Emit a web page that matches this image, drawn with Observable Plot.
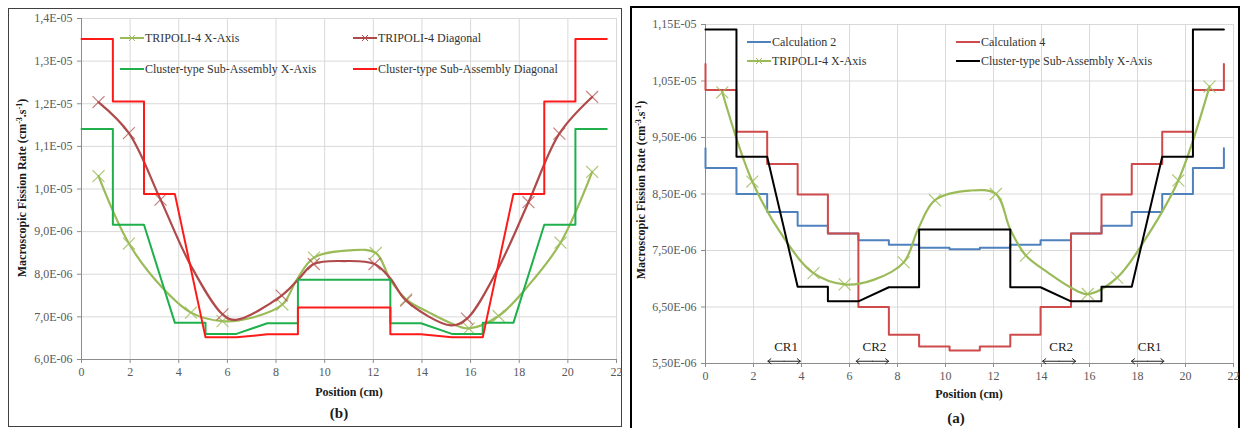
<!DOCTYPE html>
<html><head><meta charset="utf-8">
<script src="https://cdn.jsdelivr.net/npm/d3@7"></script>
<script src="https://cdn.jsdelivr.net/npm/@observablehq/plot@0.6"></script>
<style>
body{margin:0;background:#fff;}
#root{position:relative;width:1241px;height:428px;overflow:hidden;background:#fff;font-family:"Liberation Serif","Times New Roman",serif;}
.panel{position:absolute;box-sizing:border-box;}
.panel svg{position:absolute;left:0;top:0;}
.lbl{position:absolute;white-space:nowrap;transform:translate(-50%,-50%);line-height:1;color:#1a1a1a;}
.leg{position:absolute;white-space:nowrap;font-size:12px;color:#333;line-height:14px;}
sup{font-size:8px;line-height:0;vertical-align:4px;}
</style></head><body>
<div id="root">
 <div class="panel" id="pb" style="left:8px;top:8px;width:614px;height:419px;border:1px solid #404040;"></div>
 <div class="panel" id="pa" style="left:630px;top:6px;width:610px;height:440px;border:2px solid #000;"></div>
</div>
<script>
// ---------- tick values / labels ----------
const xTicks = [0, 2, 4, 6, 8, 10, 12, 14, 16, 18, 20, 22];
const bYTicks = [6, 7, 8, 9, 10, 11, 12, 13, 14];              // x 1e-6
const bYLabels = ["6,0E-06", "7,0E-06", "8,0E-06", "9,0E-06", "1,0E-05", "1,1E-05", "1,2E-05", "1,3E-05", "1,4E-05"];
const aYTicks = [5.5, 6.5, 7.5, 8.5, 9.5, 10.5, 11.5];         // x 1e-6
const aYLabels = ["5,50E-06", "6,50E-06", "7,50E-06", "8,50E-06", "9,50E-06", "1,05E-05", "1,15E-05"];

// ---------- series (values in units of 1e-6 cm^-3.s^-1) ----------
// TRIPOLI-4 X-Axis
const triXMarkX = [0.7, 1.95, 4.5, 5.8, 8.26, 9.56, 12.1, 13.35, 15.93, 17.15, 19.7, 21.0];
const triXMarkY = [10.3, 8.72, 7.1, 6.9, 7.29, 8.39, 8.5, 7.41, 6.73, 7.02, 8.74, 10.4];
const triXCurveX = [0.7, 1.95, 3.3, 4.5, 5.8, 7.0, 8.26, 8.85, 9.56, 11.0, 12.1, 12.7, 13.35, 14.3, 15.2, 15.93, 17.15, 18.4, 19.7, 21.0];
const triXCurveY = [10.3, 8.72, 7.7, 7.1, 6.9, 6.98, 7.29, 7.87, 8.39, 8.56, 8.5, 7.87, 7.41, 7.1, 6.85, 6.73, 7.02, 7.75, 8.74, 10.4];
// TRIPOLI-4 Diagonal
const triDMarkX = [0.7, 1.95, 3.25, 5.8, 8.23, 9.55, 12.05, 13.35, 15.85, 18.38, 19.65, 21.0];
const triDMarkY = [12.04, 11.31, 9.75, 7.06, 7.5, 8.24, 8.24, 7.38, 6.96, 9.69, 11.3, 12.16];
const triDCurveX = [0.7, 1.95, 3.25, 4.5, 5.8, 6.35, 8.23, 8.9, 9.55, 10.8, 12.05, 12.7, 13.35, 15.2, 15.85, 17.1, 18.38, 19.65, 21.0];
const triDCurveY = [12.04, 11.31, 9.75, 8.2, 7.06, 6.93, 7.5, 7.87, 8.24, 8.31, 8.24, 7.9, 7.38, 6.8, 6.96, 8.1, 9.69, 11.3, 12.16];
// Cluster-type Sub-Assembly X-Axis (profile vertices)
const cluXX = [0, 1.29, 1.29, 2.57, 3.84, 5.1, 5.1, 6.37, 7.64, 8.9, 8.9, 12.7, 12.7, 13.96, 15.23, 16.5, 16.5, 17.76, 19.03, 20.31, 20.31, 21.6];
const cluXY = [11.41, 11.41, 9.16, 9.16, 6.86, 6.86, 6.6, 6.6, 6.85, 6.85, 7.87, 7.87, 6.85, 6.85, 6.6, 6.6, 6.86, 6.86, 9.16, 9.16, 11.41, 11.41];
// Cluster-type Sub-Assembly Diagonal (profile vertices)
const cluDX = [0, 1.29, 1.29, 2.57, 2.57, 3.84, 5.1, 6.37, 7.64, 8.9, 8.9, 12.7, 12.7, 13.96, 15.23, 16.5, 17.76, 19.03, 19.03, 20.31, 20.31, 21.6];
const cluDY = [13.52, 13.52, 12.05, 12.05, 9.88, 9.88, 6.52, 6.52, 6.59, 6.59, 7.22, 7.22, 6.59, 6.59, 6.52, 6.52, 9.88, 9.88, 12.05, 12.05, 13.52, 13.52];
// Calculation 2 / Calculation 4 (pin-row steps)
const pinBounds = [0, 1.29, 2.57, 3.84, 5.1, 6.37, 7.64, 8.9, 10.17, 11.43, 12.7, 13.96, 15.23, 16.5, 17.76, 19.03, 20.31, 21.6];
const calc2Vals = [8.96, 8.5, 8.18, 7.94, 7.8, 7.68, 7.6, 7.55, 7.52, 7.55, 7.6, 7.68, 7.8, 7.94, 8.18, 8.5, 8.96];
const calc2Edge = 9.31;
const calc4Vals = [10.34, 9.6, 9.03, 8.49, 7.8, 6.5, 6.01, 5.8, 5.73, 5.8, 6.01, 6.5, 7.8, 8.49, 9.03, 9.6, 10.34];
const calc4Edge = 10.8;
// Control-rod annotations
const crNames = ["CR1", "CR2", "CR2", "CR1"];
const crStart = [2.6, 6.28, 14.05, 17.75];
const crEnd = [3.95, 7.63, 15.42, 19.1];

// ---------- colours ----------
const C = {triX: "#9bbb59", triD: "#b04a4a", cluXb: "#1fb04c", cluD: "#ff1a1a", calc2: "#4f81bd", calc4: "#cf4a4a", black: "#000"};

// ---------- tables ----------
const zip = (xs, ys) => xs.map((x, i) => ({x, y: ys[i]}));
function steps(bounds, vals, edge) {
  const p = [{x: bounds[0], y: edge}];
  vals.forEach((v, i) => { p.push({x: bounds[i], y: v}, {x: bounds[i + 1], y: v}); });
  p.push({x: bounds[bounds.length - 1], y: edge});
  return p;
}
const triX = zip(triXCurveX, triXCurveY), triXM = zip(triXMarkX, triXMarkY);
const triD = zip(triDCurveX, triDCurveY), triDM = zip(triDMarkX, triDMarkY);
const cluX = zip(cluXX, cluXY), cluD = zip(cluDX, cluDY);
const calc2 = steps(pinBounds, calc2Vals, calc2Edge), calc4 = steps(pinBounds, calc4Vals, calc4Edge);
const cr = crNames.map((n, i) => ({name: n, a: crStart[i], b: crEnd[i], mid: (crStart[i] + crEnd[i]) / 2}));
const crArrows = cr.flatMap(d => [{x1: d.mid, x2: d.a}, {x1: d.mid, x2: d.b}]);

const font = '"Liberation Serif","Times New Roman",serif';
function frameMarks(yTicks, yLabels, y0) {
  return [
    Plot.gridX(xTicks, {stroke: "#d9d9d9", strokeOpacity: 1}),
    Plot.gridY(yTicks, {stroke: "#d9d9d9", strokeOpacity: 1}),
    Plot.frame({stroke: "#d9d9d9"}),
    Plot.ruleX([0], {stroke: "#8c8c8c"}),
    Plot.ruleY([y0], {stroke: "#8c8c8c"}),
    Plot.axisX(xTicks, {tickSize: 4, tickPadding: 4, stroke: "#8c8c8c", fill: "#595959", label: null, tickFormat: d => String(d)}),
    Plot.axisY(yTicks, {tickSize: 4, tickPadding: 5, stroke: "#8c8c8c", fill: "#595959", label: null, tickFormat: d => yLabels[yTicks.indexOf(d)]})
  ];
}
const lw = 2;

// ---------- panel (b) ----------
const pb = Plot.plot({
  width: 612, height: 417, marginLeft: 72, marginRight: 5, marginTop: 9, marginBottom: 67,
  style: {fontFamily: font, fontSize: "12px", background: "transparent", overflow: "visible"},
  x: {domain: [0, 22]}, y: {domain: [6, 14]},
  marks: [
    ...frameMarks(bYTicks, bYLabels, 6),
    Plot.line(triX, {x: "x", y: "y", stroke: C.triX, strokeWidth: 2.2, curve: "catmull-rom"}),
    Plot.dot(triXM, {x: "x", y: "y", symbol: "times", r: 5.5, stroke: C.triX, strokeOpacity: 0.8, strokeWidth: 1.2}),
    Plot.line(triD, {x: "x", y: "y", stroke: C.triD, strokeWidth: 2.2, curve: "catmull-rom"}),
    Plot.dot(triDM, {x: "x", y: "y", symbol: "times", r: 5.5, stroke: C.triD, strokeOpacity: 0.7, strokeWidth: 1.2}),
    Plot.line(cluX, {x: "x", y: "y", stroke: C.cluXb, strokeWidth: lw}),
    Plot.line(cluD, {x: "x", y: "y", stroke: C.cluD, strokeWidth: lw})
  ]
});
document.getElementById("pb").appendChild(pb);

// ---------- panel (a) ----------
const pa = Plot.plot({
  width: 606, height: 420, marginLeft: 73, marginRight: 5, marginTop: 16, marginBottom: 65,
  style: {fontFamily: font, fontSize: "12px", background: "transparent", overflow: "visible"},
  x: {domain: [0, 22]}, y: {domain: [5.5, 11.5]},
  marks: [
    ...frameMarks(aYTicks, aYLabels, 5.5),
    Plot.line(calc2, {x: "x", y: "y", stroke: C.calc2, strokeWidth: lw}),
    Plot.line(calc4, {x: "x", y: "y", stroke: C.calc4, strokeWidth: lw}),
    Plot.line(triX, {x: "x", y: "y", stroke: C.triX, strokeWidth: 2.2, curve: "catmull-rom"}),
    Plot.dot(triXM, {x: "x", y: "y", symbol: "times", r: 5.5, stroke: C.triX, strokeOpacity: 0.8, strokeWidth: 1.2}),
    Plot.line(cluX, {x: "x", y: "y", stroke: C.black, strokeWidth: lw}),
    Plot.arrow(crArrows, {x1: "x1", x2: "x2", y1: 5.54, y2: 5.54, stroke: "#222", strokeWidth: 1, headLength: 6, headAngle: 80}),
    Plot.text(cr, {x: "mid", y: 5.8, text: "name", dx: 2, fontSize: 13, fill: "#222"})
  ]
});
document.getElementById("pa").appendChild(pa);

// ---------- HTML text: axis titles, legends ----------
const root = document.getElementById("root");
function addLabel(html, cx, cy, style) {
  const d = document.createElement("div");
  d.className = "lbl"; d.innerHTML = html;
  d.style.left = cx + "px"; d.style.top = cy + "px";
  Object.assign(d.style, style || {});
  root.appendChild(d);
}
const yTitle = "Macroscopic Fission Rate (cm<sup>-3</sup>.s<sup>-1</sup>)";
addLabel(yTitle, 22, 188, {fontWeight: "bold", fontSize: "12px", transform: "translate(-50%,-50%) rotate(-90deg)"});
addLabel(yTitle, 641, 190, {fontWeight: "bold", fontSize: "12px", transform: "translate(-50%,-50%) rotate(-90deg)"});
addLabel("Position (cm)", 349, 392, {fontWeight: "bold", fontSize: "12px"});
addLabel("(b)", 339, 413, {fontWeight: "bold", fontSize: "15px"});
addLabel("Position (cm)", 969, 394, {fontWeight: "bold", fontSize: "12px"});
addLabel("(a)", 956, 418, {fontWeight: "bold", fontSize: "15px"});

function legendItem(x, y, color, marker, text) {
  const ns = "http://www.w3.org/2000/svg";
  const s = document.createElementNS(ns, "svg");
  s.setAttribute("width", 24); s.setAttribute("height", 12);
  s.style.position = "absolute"; s.style.left = x + "px"; s.style.top = (y - 6) + "px";
  let inner = `<line x1="0" x2="24" y1="6" y2="6" stroke="${color}" stroke-width="2"/>`;
  if (marker) inner += `<path d="M9,3L15,9M9,9L15,3" stroke="${color}" stroke-width="1" fill="none"/>`;
  s.innerHTML = inner;
  root.appendChild(s);
  const t = document.createElement("div");
  t.className = "leg"; t.textContent = text;
  t.style.left = (x + 25) + "px"; t.style.top = (y - 7) + "px";
  root.appendChild(t);
}
legendItem(120, 38, C.triX, true, "TRIPOLI-4 X-Axis");
legendItem(353, 38, C.triD, true, "TRIPOLI-4 Diagonal");
legendItem(120, 69, C.cluXb, false, "Cluster-type Sub-Assembly X-Axis");
legendItem(353, 69, C.cluD, false, "Cluster-type Sub-Assembly Diagonal");
legendItem(747, 42, C.calc2, false, "Calculation 2");
legendItem(956, 42, C.calc4, false, "Calculation 4");
legendItem(747, 61, C.triX, true, "TRIPOLI-4 X-Axis");
legendItem(956, 61, C.black, false, "Cluster-type Sub-Assembly X-Axis");
</script>
</body></html>
